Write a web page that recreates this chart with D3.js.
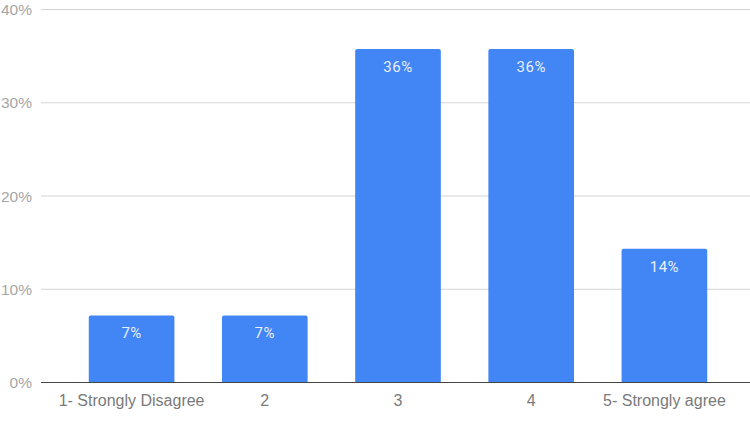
<!DOCTYPE html>
<html lang="en">
<head>
<meta charset="utf-8">
<title>Responses</title>
<script src="https://d3js.org/d3.v7.min.js"></script>
<style>
  body { margin: 0; background: #fff; }
  svg { font-family: Roboto, "Noto Sans", sans-serif; }
</style>
</head>
<body>
<div id="vis"></div>
<script>
// answers (share of respondents)
var categories = ["1- Strongly Disagree", "2", "3", "4", "5- Strongly agree"];
var values = [0.0714, 0.0714, 0.357, 0.357, 0.143];
var yTicks = [0, 0.1, 0.2, 0.3, 0.4];

var width = 750, height = 424;

var svg = d3.select("#vis").append("svg")
  .attr("width", width)
  .attr("height", height);

var x = d3.scaleBand()
  .domain(categories)
  .range([65, 731])
  .paddingInner(0.357)
  .paddingOuter(0.1785);

var y = d3.scaleLinear()
  .domain([0, 0.4])
  .range([382, 9]);

var fmt = d3.format(".0%");

// gridlines
svg.append("g").selectAll("line")
  .data(yTicks.slice(1))
  .enter().append("line")
    .attr("x1", 41).attr("x2", 750)
    .attr("y1", function(d) { return y(d) + 0.5; })
    .attr("y2", function(d) { return y(d) + 0.5; })
    .attr("stroke", "#d4d4d4")
    .attr("stroke-width", 1);

// y labels
var yAxis = d3.axisLeft(y).tickValues(yTicks).tickFormat(fmt).tickSize(0).tickPadding(0);
svg.append("g")
  .attr("transform", "translate(32,0)")
  .call(yAxis)
  .call(function(g) { g.select(".domain").remove(); })
  .selectAll("text")
    .attr("fill", "#a6a6a6")
    .style("font-size", "15.5px")
    .attr("dy", "0.36em");

// bars with rounded tops
var r = 2;
function barPath(d, i) {
  var x0 = x(categories[i]), x1 = x0 + x.bandwidth();
  var y0 = y(0), y1 = y(d);
  return "M" + x0 + "," + y0 +
    "V" + (y1 + r) + "Q" + x0 + "," + y1 + " " + (x0 + r) + "," + y1 +
    "H" + (x1 - r) + "Q" + x1 + "," + y1 + " " + x1 + "," + (y1 + r) +
    "V" + y0 + "Z";
}

svg.append("g").selectAll("path")
  .data(values)
  .enter().append("path")
    .attr("d", barPath)
    .attr("fill", "#4285f4");

// value labels
svg.append("g").selectAll("text")
  .data(values)
  .enter().append("text")
    .attr("x", function(d, i) { return x(categories[i]) + x.bandwidth() / 2; })
    .attr("y", function(d) { return y(d) + 23; })
    .attr("text-anchor", "middle")
    .attr("fill", "#e8efff")
    .style("font-size", "15px")
    .style("letter-spacing", "0.5px")
    .text(function(d) { return fmt(d); });

// baseline
svg.append("line")
  .attr("x1", 41).attr("x2", 750)
  .attr("y1", y(0) + 0.5).attr("y2", y(0) + 0.5)
  .attr("stroke", "#444")
  .attr("stroke-width", 1.2);

// x labels
var xAxis = d3.axisBottom(x).tickSize(0).tickPadding(0);
svg.append("g")
  .attr("transform", "translate(0," + (y(0) + 9) + ")")
  .call(xAxis)
  .call(function(g) { g.select(".domain").remove(); })
  .selectAll("text")
    .attr("fill", "#7a7a7a")
    .style("font-size", "16px")
    .attr("dy", "0.95em");
</script>
</body>
</html>
